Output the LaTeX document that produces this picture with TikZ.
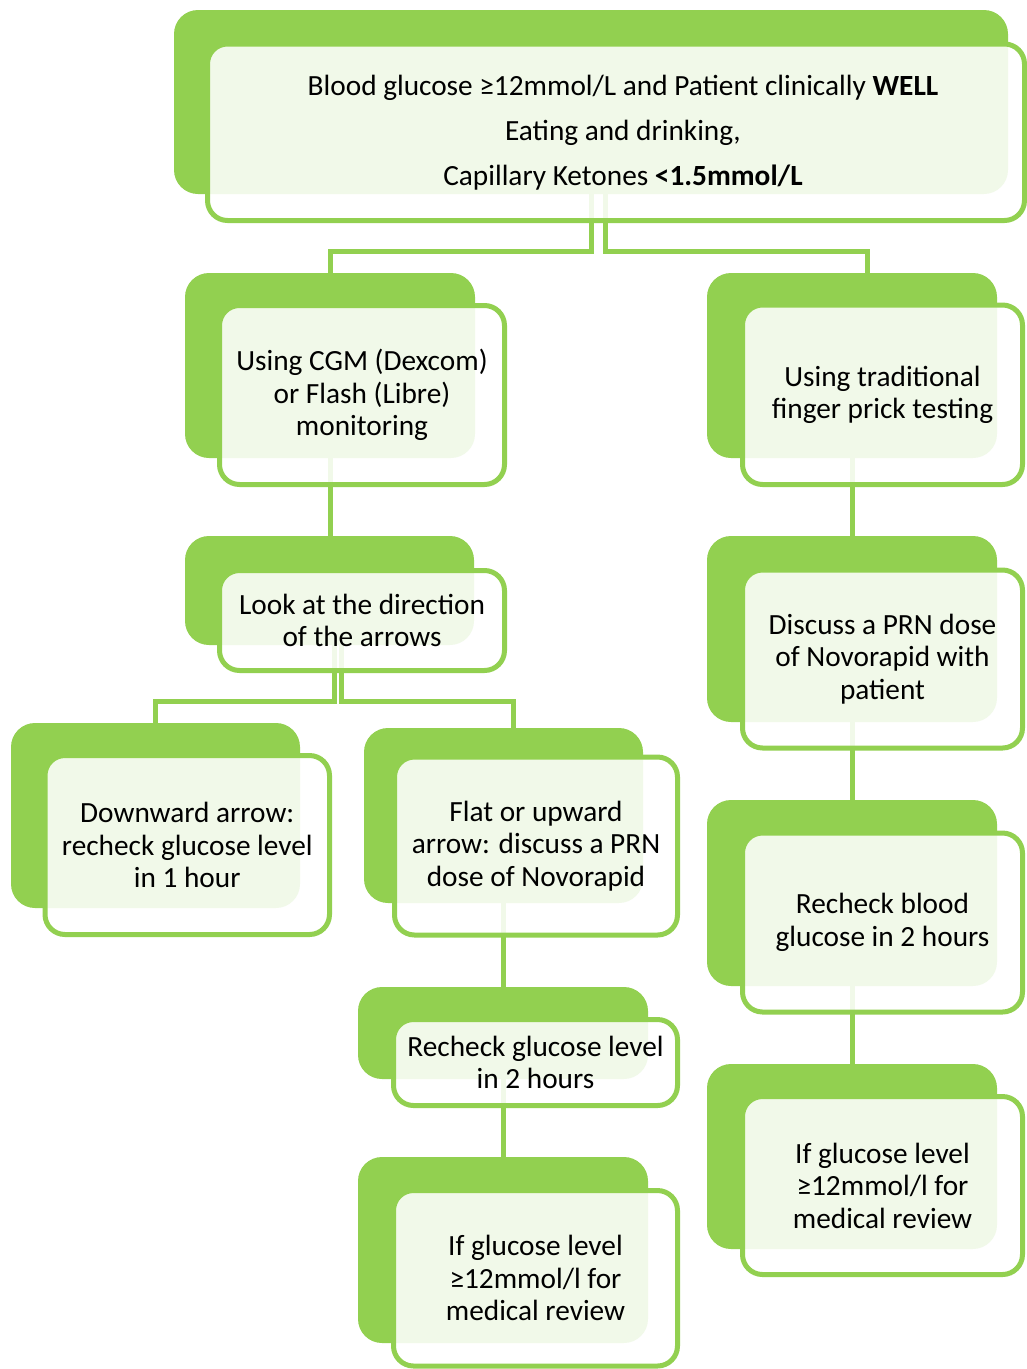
\documentclass[tikz,border=0pt]{standalone}
\usepackage{fontspec}
\setmainfont{Carlito}
\usetikzlibrary{calc}
\definecolor{gr}{HTML}{92D050}
\pgfdeclarelayer{bg}
\pgfsetlayers{bg,main}
\begin{document}
\begin{tikzpicture}[x=1pt,y=-1pt,
  backbox/.style={fill=gr, rounded corners=24pt, inner sep=0pt, draw=none},
  frontbox/.style={draw=gr, line width=5pt, fill=white, fill opacity=0.88, text opacity=1,
    rounded corners=20pt, inner sep=0pt, align=center, font=\fontsize{29.3}{32.5}\selectfont},
  toptext/.style={align=center, inner sep=0pt, font=\fontsize{29.3}{45}\selectfont},
  conn/.style={draw=gr, line width=5pt}]
\useasboundingbox (0,0) rectangle (1027,1369);

% top box
\node[backbox, minimum width=834, minimum height=184] (topB) at (591,102) {};
\node[frontbox, minimum width=817, minimum height=176.5] (topF) at (616,132.25) {};
\node[toptext] (topT) at (623,133) {Blood glucose ≥12mmol/L and Patient clinically \textbf{WELL}\\Eating and drinking,\\Capillary Ketones \textbf{<1.5mmol/L}};

% CGM
\node[backbox, minimum width=290, minimum height=185] (cgmB) at (330,365.5) {};
\node[frontbox, minimum width=285, minimum height=179] (cgmF) at (362,395) {Using CGM (Dexcom)\\or Flash (Libre)\\monitoring};

% finger prick
\node[backbox, minimum width=290, minimum height=185] (fingB) at (852,365.5) {};
\node[frontbox, minimum width=280, minimum height=179.5] (fingF) at (882.5,394.75) {Using traditional\\finger prick testing};

% look at arrows
\node[backbox, minimum width=289, minimum height=109] (lookB) at (329.5,590.5) {};
\node[frontbox, minimum width=285, minimum height=100] (lookF) at (362,620.5) {Look at the direction\\of the arrows};

% discuss PRN
\node[backbox, minimum width=290, minimum height=186] (discB) at (852,629) {};
\node[frontbox, minimum width=280, minimum height=178] (discF) at (882.5,659) {Discuss a PRN dose\\of Novorapid with\\patient};

% downward arrow
\node[backbox, minimum width=289, minimum height=185] (downB) at (155.5,815.5) {};
\node[frontbox, minimum width=284.5, minimum height=179] (downF) at (187.25,845) {Downward arrow:\\recheck glucose level\\in 1 hour};

% flat or upward
\node[backbox, minimum width=279, minimum height=175] (flatB) at (503.5,815.5) {};
\node[frontbox, minimum width=283, minimum height=178] (flatF) at (536,846) {Flat or upward\\arrow: discuss a PRN\\dose of Novorapid};

% recheck blood glucose 2 hours (right)
\node[backbox, minimum width=290, minimum height=186] (rbgB) at (852,893) {};
\node[frontbox, minimum width=280, minimum height=179] (rbgF) at (882.5,922.5) {Recheck blood\\glucose in 2 hours};

% recheck glucose level 2 hours (middle)
\node[backbox, minimum width=290, minimum height=92] (rglB) at (503,1033) {};
\node[frontbox, minimum width=284, minimum height=86] (rglF) at (535.5,1062.5) {Recheck glucose level\\in 2 hours};

% if glucose (middle)
\node[backbox, minimum width=290, minimum height=186] (ifmB) at (503,1250) {};
\node[frontbox, minimum width=284, minimum height=175.5] (ifmF) at (535.5,1278.25) {If glucose level\\≥12mmol/l for\\medical review};

% if glucose (right)
\node[backbox, minimum width=290, minimum height=185] (ifrB) at (852,1156.5) {};
\node[frontbox, minimum width=280, minimum height=178] (ifrF) at (882.5,1185.5) {If glucose level\\≥12mmol/l for\\medical review};

\begin{pgfonlayer}{bg}
  \draw[conn] (topB.south) -- ++(0,57.5) -| (cgmB.north);
  \draw[conn] ([xshift=14.5pt]topB.south) -- ++(0,57.5) -| ([xshift=15.5pt]fingB.north);
  \draw[conn] (cgmB.south) -- (cgmB.south |- lookB.north);
  \draw[conn] ([xshift=4.5pt]lookB.south) -- ++(0,56.5) -| (downB.north);
  \draw[conn] ([xshift=11.5pt]lookB.south) -- ++(0,56.5) -| ([xshift=10pt]flatB.north);
  \draw[conn] (flatB.south) -- (flatB.south |- rglB.north);
  \draw[conn] (rglB.south) -- (rglB.south |- ifmB.north);
  \draw[conn] (fingB.south) -- (fingB.south |- discB.north);
  \draw[conn] (discB.south) -- (discB.south |- rbgB.north);
  \draw[conn] (rbgB.south) -- (rbgB.south |- ifrB.north);
\end{pgfonlayer}
\end{tikzpicture}
\end{document}
